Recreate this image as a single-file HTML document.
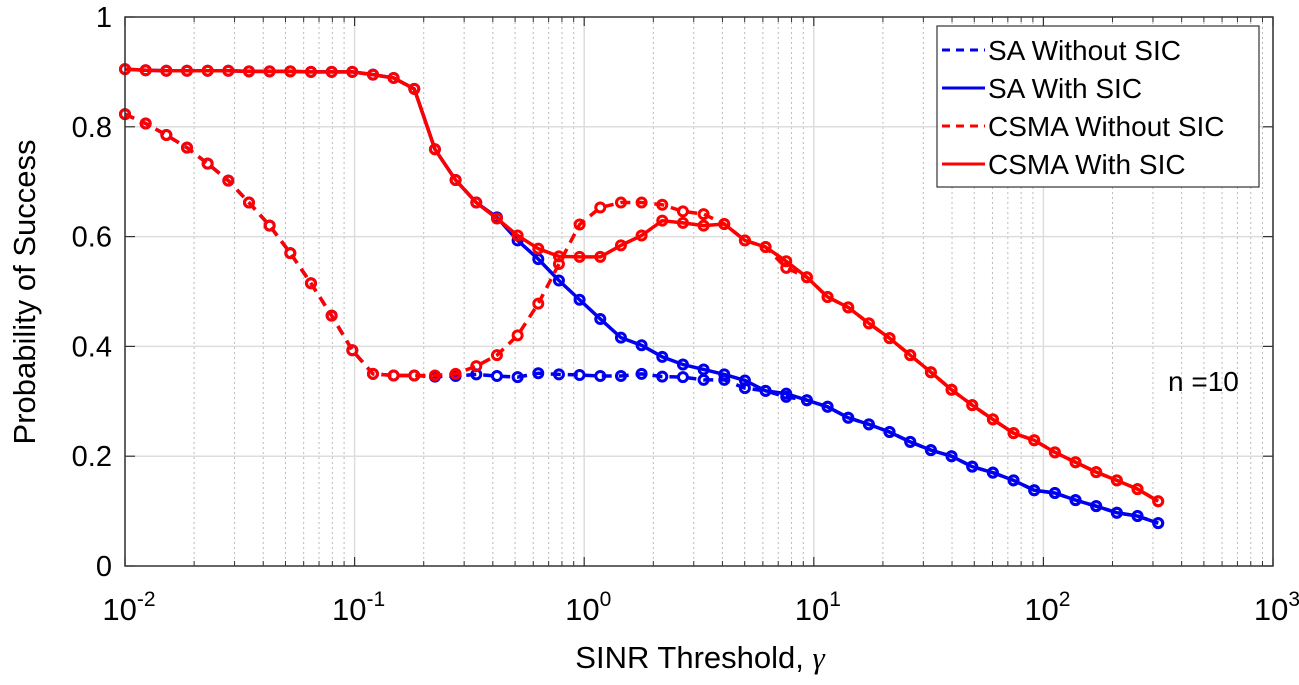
<!DOCTYPE html>
<html><head><meta charset="utf-8"><style>
body{margin:0;background:#fff}
svg text{font-family:"Liberation Sans",Arial,sans-serif;fill:#000}
</style></head><body>
<svg id="c" width="1299" height="680" xmlns="http://www.w3.org/2000/svg"></svg>
<script>
const xExp = [-2,-1,0,1,2,3];
const yTicks = [0,0.2,0.4,0.6,0.8,1];
const yTickLabels = ["0","0.2","0.4","0.6","0.8","1"];
const nPts = 51, xStart = -2, xStep = 0.09;
const csmaSic = [0.905,0.903,0.902,0.902,0.902,0.902,0.901,0.901,0.901,0.9,0.9,0.9,0.895,0.889,0.869,0.759,0.703,0.662,0.633,0.602,0.578,0.564,0.563,0.563,0.584,0.602,0.629,0.625,0.62,0.623,0.593,0.581,0.555,0.526,0.49,0.471,0.442,0.415,0.384,0.353,0.321,0.293,0.267,0.242,0.229,0.207,0.189,0.171,0.156,0.14,0.118];
const saSic = [0.905,0.903,0.902,0.902,0.902,0.902,0.901,0.901,0.901,0.9,0.9,0.9,0.895,0.889,0.869,0.759,0.703,0.662,0.635,0.593,0.559,0.52,0.485,0.45,0.416,0.402,0.381,0.367,0.358,0.349,0.338,0.319,0.314,0.302,0.29,0.27,0.258,0.244,0.226,0.211,0.2,0.181,0.17,0.156,0.138,0.133,0.12,0.109,0.097,0.091,0.078];
const csmaNo = [0.823,0.806,0.785,0.762,0.733,0.702,0.662,0.62,0.57,0.515,0.456,0.393,0.35,0.347,0.347,0.347,0.35,0.364,0.384,0.42,0.478,0.55,0.622,0.653,0.662,0.662,0.658,0.646,0.641,0.623,0.593,0.581,0.543,0.526,0.49,0.471,0.442,0.415,0.384,0.353,0.321,0.293,0.267,0.242,0.229,0.207,0.189,0.171,0.156,0.14,0.118];
const saNo = [0.823,0.806,0.785,0.762,0.733,0.702,0.662,0.62,0.57,0.515,0.456,0.393,0.35,0.347,0.347,0.345,0.346,0.349,0.346,0.344,0.351,0.349,0.348,0.346,0.346,0.35,0.345,0.344,0.339,0.339,0.324,0.319,0.308,0.302,0.29,0.27,0.258,0.244,0.226,0.211,0.2,0.181,0.17,0.156,0.138,0.133,0.12,0.109,0.097,0.091,0.078];

const L=125,R=1273,T=17,B=566;
const X=e=>L+(e+2)/5*(R-L);
const Y=v=>B-v*(B-T);
const NS="http://www.w3.org/2000/svg";
const svg=document.getElementById('c');
function mk(tag,attrs,parent){const el=document.createElementNS(NS,tag);for(const k in attrs)el.setAttribute(k,attrs[k]);(parent||svg).appendChild(el);return el;}

const grid=mk('g',{});


for(let d=-2;d<3;d++){for(let m=2;m<=9;m++){const x=X(d+Math.log10(m));
 mk('line',{x1:x,x2:x,y1:T,y2:B,stroke:'#bbb','stroke-width':1,'stroke-dasharray':'2,3'},grid);
 mk('line',{x1:x,x2:x,y1:B,y2:B-5,stroke:'#333','stroke-width':1},grid);
 mk('line',{x1:x,x2:x,y1:T,y2:T+5,stroke:'#333','stroke-width':1},grid);}}
xExp.forEach(e=>{const x=X(e);mk('line',{x1:x,x2:x,y1:T,y2:B,stroke:'#ddd','stroke-width':1.5},grid);
 mk('line',{x1:x,x2:x,y1:B,y2:B-9,stroke:'#333','stroke-width':1.2},grid);
 mk('line',{x1:x,x2:x,y1:T,y2:T+9,stroke:'#333','stroke-width':1.2},grid);
 const t=mk('text',{x:x+4,y:620,'font-size':31,'text-anchor':'middle'});
 
 
 t.innerHTML='10<tspan dy="-14" font-size="21">'+e+'</tspan>';});
yTicks.forEach((v,i)=>{const y=Y(v);if(v>0&&v<1)mk('line',{x1:L,x2:R,y1:y,y2:y,stroke:'#ddd','stroke-width':1.5},grid);
 mk('line',{x1:L,x2:L+10,y1:y,y2:y,stroke:'#333','stroke-width':1.2},grid);
 mk('line',{x1:R,x2:R-10,y1:y,y2:y,stroke:'#333','stroke-width':1.2},grid);
 const t=mk('text',{x:112,y:y+10,'font-size':29,'text-anchor':'end'});
 
 
 t.textContent=yTickLabels[i];});

function series(vals,color,dash,name){
 const g=mk('g',{});
 
 
 const pts=vals.map((v,i)=>X(xStart+i*xStep)+','+Y(v)).join(' ');
 mk('polyline',{points:pts,fill:'none',stroke:color,'stroke-width':3.5,'stroke-dasharray':dash?'10,7':'none','stroke-linejoin':'round'},g);
 vals.forEach((v,i)=>{const c=mk('circle',{cx:X(xStart+i*xStep),cy:Y(v),r:4.5,fill:'none',stroke:color,'stroke-width':3},g);
 
 });
}
series(saNo,'#0000ee',true,'sa-without-sic');
series(saSic,'#0000ee',false,'sa-with-sic');
series(csmaNo,'#ff0000',true,'csma-without-sic');
series(csmaSic,'#ff0000',false,'csma-with-sic');

const box=mk('rect',{x:L,y:T,width:R-L,height:B-T,fill:'none',stroke:'#333','stroke-width':1.5});



const lg=mk('g',{});


mk('rect',{x:937,y:26,width:322,height:161,fill:'#fff',stroke:'#333','stroke-width':1.2},lg);
const entries=[['SA Without SIC','#0000ee',true],['SA With SIC','#0000ee',false],['CSMA Without SIC','#ff0000',true],['CSMA With SIC','#ff0000',false]];
entries.forEach((en,i)=>{const y=50+i*38;
 const e=mk('g',{},lg);
 
 
 mk('line',{x1:942,x2:985,y1:y,y2:y,stroke:en[1],'stroke-width':3,'stroke-dasharray':en[2]?'8,6':'none'},e);
 const t=mk('text',{x:988,y:y+10,'font-size':28},e);
 t.textContent=en[0];});

const xt=mk('text',{x:700,y:668,'font-size':31,'text-anchor':'middle'});


xt.innerHTML='SINR Threshold, <tspan font-family="Liberation Serif" font-style="italic">γ</tspan>';
const yt=mk('text',{x:0,y:0,'font-size':31,'text-anchor':'middle',transform:'translate(35,292) rotate(-90)'});


yt.textContent='Probability of Success';
const an=mk('text',{x:1168,y:391,'font-size':28});


an.textContent='n =10';
</script>
</body></html>
